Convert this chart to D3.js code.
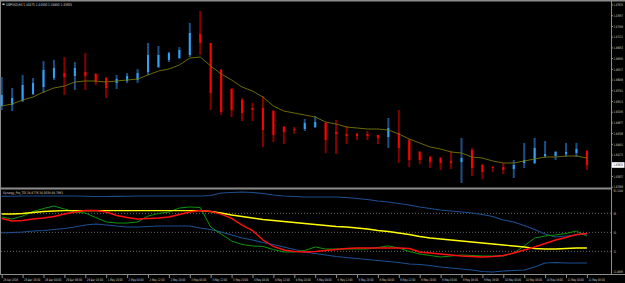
<!DOCTYPE html>
<html>
<head>
<meta charset="utf-8">
<script src="https://cdn.jsdelivr.net/npm/d3@7/dist/d3.min.js"></script>
<style>
  html, body { margin: 0; padding: 0; background: #000; }
  svg { display: block; }
  text { font-family: "DejaVu Sans", sans-serif; fill: #d8d8d8; }
</style>
</head>
<body>
<svg id="chart" width="625" height="283"></svg>
<script>
// GBPUSD H4 candles
const opens = [1.45400, 1.45425, 1.45525, 1.45700, 1.45875, 1.46100, 1.46225, 1.46150, 1.46250, 1.46200,
  1.46100, 1.45975, 1.46025, 1.46050, 1.46250, 1.46375, 1.46550, 1.46600, 1.46675, 1.47200,
  1.46975, 1.46300, 1.45825, 1.45550, 1.45350, 1.45350, 1.45275, 1.44875, 1.44825, 1.44825,
  1.44875, 1.44975, 1.44750, 1.44700, 1.44700, 1.44700, 1.44675, 1.44625, 1.44725, 1.44550,
  1.44250, 1.44125, 1.44100, 1.44025, 1.44000, 1.44300, 1.43925, 1.43875, 1.43875, 1.43825,
  1.43975, 1.43975, 1.44150, 1.44150, 1.44200, 1.44225, 1.44275];
const highs = [1.46125, 1.45850, 1.46175, 1.46100, 1.46525, 1.46550, 1.46625, 1.46500, 1.46725, 1.46225,
  1.46125, 1.46175, 1.46225, 1.46325, 1.46975, 1.46900, 1.46750, 1.46875, 1.47475, 1.47775,
  1.46975, 1.46325, 1.45850, 1.45600, 1.45475, 1.45650, 1.45300, 1.44900, 1.44875, 1.45075,
  1.45150, 1.45000, 1.45050, 1.44900, 1.44725, 1.44775, 1.44675, 1.45100, 1.45300, 1.44575,
  1.44275, 1.44150, 1.44125, 1.44275, 1.44600, 1.44350, 1.43950, 1.43900, 1.43975, 1.44050,
  1.44475, 1.44600, 1.44525, 1.44275, 1.44475, 1.44475, 1.44300];
const lows = [1.45300, 1.45275, 1.45500, 1.45675, 1.45725, 1.46050, 1.45675, 1.45800, 1.45800, 1.45925,
  1.45600, 1.45825, 1.45975, 1.45975, 1.46175, 1.46350, 1.46500, 1.46575, 1.46625, 1.46675,
  1.45300, 1.45175, 1.45125, 1.45025, 1.45025, 1.44375, 1.44500, 1.44450, 1.44700, 1.44775,
  1.44850, 1.44225, 1.44200, 1.44450, 1.44550, 1.44550, 1.44450, 1.44350, 1.43975, 1.43875,
  1.43950, 1.43850, 1.43800, 1.43825, 1.43475, 1.43650, 1.43575, 1.43750, 1.43700, 1.43600,
  1.43850, 1.43950, 1.44100, 1.44050, 1.44125, 1.44125, 1.43800];
const closes = [1.45675, 1.45600, 1.45925, 1.45975, 1.46300, 1.46350, 1.46125, 1.46350, 1.46150, 1.46000,
  1.45850, 1.46075, 1.46150, 1.46225, 1.46675, 1.46675, 1.46725, 1.46800, 1.47225, 1.46975,
  1.45725, 1.45250, 1.45300, 1.45225, 1.45300, 1.44800, 1.44675, 1.44750, 1.44800, 1.44975,
  1.45000, 1.44550, 1.44700, 1.44650, 1.44650, 1.44650, 1.44600, 1.44850, 1.44350, 1.44050,
  1.44050, 1.44000, 1.43975, 1.43975, 1.44100, 1.43850, 1.43750, 1.43850, 1.43800, 1.43925,
  1.44050, 1.44350, 1.44200, 1.44250, 1.44250, 1.44325, 1.43925];

// moving average on the price window
const maValues = [1.45400, 1.45450, 1.45550, 1.45625, 1.45750, 1.45850, 1.45900, 1.46000, 1.46025, 1.46025,
  1.46000, 1.46025, 1.46050, 1.46075, 1.46175, 1.46275, 1.46325, 1.46425, 1.46600, 1.46625,
  1.46400, 1.46200, 1.46050, 1.45875, 1.45775, 1.45625, 1.45400, 1.45275, 1.45225, 1.45175,
  1.45125, 1.45000, 1.44950, 1.44875, 1.44850, 1.44825, 1.44825, 1.44800, 1.44700, 1.44575,
  1.44475, 1.44375, 1.44325, 1.44250, 1.44225, 1.44125, 1.44100, 1.44025, 1.43975, 1.43975,
  1.44025, 1.44075, 1.44125, 1.44125, 1.44150, 1.44150, 1.44100];

// TDI sub window
const upperBand = [84.0, 84.2, 84.4, 84.4, 84.4, 84.4, 84.4, 84.4, 84.2, 83.9,
  83.9, 84.0, 84.2, 84.4, 84.4, 84.4, 84.4, 84.4, 84.4, 84.4,
  84.8, 87.2, 87.7, 88.2, 87.7, 86.7, 85.3, 84.4, 83.9, 83.4,
  83.4, 83.4, 83.4, 82.9, 82.0, 81.1, 79.6, 78.7, 77.3, 75.9,
  74.0, 72.5, 71.1, 70.2, 69.2, 68.3, 66.9, 65.0, 61.7, 59.8,
  56.4, 52.7, 48.4, 45.6, 46.5, 47.5, 48.4];
const lowerBand = [49.4, 49.8, 50.3, 51.2, 51.7, 52.7, 53.6, 55.0, 56.9, 57.9,
  56.9, 56.0, 55.0, 55.0, 55.5, 56.0, 56.0, 56.0, 56.0, 54.1,
  52.7, 50.3, 47.5, 44.6, 42.7, 40.4, 38.5, 36.1, 33.7, 31.4,
  30.0, 28.5, 27.1, 26.2, 25.2, 24.3, 23.3, 22.4, 21.4, 20.0,
  19.5, 18.6, 17.2, 16.2, 15.3, 14.3, 12.9, 12.4, 13.4, 13.9,
  14.3, 17.2, 21.0, 21.4, 21.0, 21.0, 21.0];
const rsiLine = [64.5, 62.6, 65.4, 69.7, 72.5, 74.9, 72.1, 69.2, 68.3, 64.0,
  59.8, 58.8, 58.8, 59.8, 65.4, 67.8, 69.2, 73.0, 74.0, 73.5,
  55.0, 48.4, 41.8, 38.5, 37.1, 36.6, 33.7, 31.4, 31.4, 32.8,
  36.1, 34.2, 34.2, 34.2, 34.2, 34.2, 35.6, 37.1, 35.2, 31.8,
  29.5, 28.1, 26.6, 27.6, 28.5, 28.1, 27.6, 27.6, 27.6, 30.4,
  37.1, 44.6, 46.5, 47.5, 48.9, 51.2, 46.5];
const signalLine = [63.1, 60.7, 61.2, 62.6, 63.6, 65.0, 67.3, 69.2, 70.7, 70.7,
  69.2, 65.9, 64.0, 62.6, 63.1, 63.6, 64.5, 66.9, 69.2, 70.7,
  69.7, 67.3, 63.1, 56.9, 51.7, 42.7, 36.6, 33.3, 31.8, 31.4,
  31.8, 32.8, 33.7, 34.7, 35.2, 35.2, 35.2, 35.2, 35.2, 34.7,
  31.4, 30.4, 29.5, 28.5, 27.6, 27.1, 26.6, 27.1, 28.1, 30.4,
  33.3, 36.1, 39.4, 42.7, 45.1, 47.9, 48.9];
const baseLine = [67.3, 67.3, 67.8, 68.8, 69.7, 70.2, 70.5, 70.5, 70.5, 70.5,
  70.5, 70.5, 70.5, 70.5, 70.5, 70.5, 70.5, 70.5, 70.5, 70.5,
  69.7, 68.3, 66.4, 65.0, 63.6, 62.1, 61.2, 60.2, 59.3, 58.3,
  57.4, 56.5, 55.5, 55.0, 54.1, 53.1, 51.7, 50.8, 49.4, 47.9,
  46.0, 44.6, 43.7, 42.7, 41.8, 40.8, 39.9, 38.9, 38.0, 37.1,
  36.1, 34.7, 34.2, 34.2, 34.7, 35.2, 35.2];
const tdiLevels = [68, 50, 32];

// axis labels
const priceTicks = [1.47925, 1.47657, 1.47389, 1.47121, 1.46853, 1.46585, 1.46317, 1.46049, 1.45781,
  1.45513, 1.45245, 1.44977, 1.44709, 1.44441, 1.44173, 1.43905, 1.43637, 1.43369];
const timeLabels = ["28 Apr 2016", "28 Apr 16:00", "29 Apr 00:00", "29 Apr 08:00", "29 Apr 16:00",
  "1 May 20:00", "2 May 04:00", "2 May 12:00", "2 May 20:00", "3 May 04:00", "3 May 12:00",
  "3 May 20:00", "4 May 04:00", "4 May 12:00", "4 May 20:00", "5 May 04:00", "5 May 12:00",
  "5 May 20:00", "6 May 04:00", "6 May 12:00", "6 May 20:00", "9 May 00:00", "9 May 08:00",
  "9 May 16:00", "10 May 00:00", "10 May 08:00", "10 May 16:00", "11 May 00:00", "11 May 08:00"];

const PLOT = { left: 1, right: 611 };
const MAIN = { top: 2, bottom: 187 };
const SUB = { top: 189, bottom: 273 };
const FRAME = "#8c8c8c";
const FONT = 3.4;
const CHAR_W = 1.36; // the terminal font is squeezed at this size

const svg = d3.select("#chart");
svg.append("rect").attr("width", 625).attr("height", 283).attr("fill", "#000");

const n = closes.length;
const x = d3.scaleLinear().domain([0, n - 1]).range([1.7, 586.9]);
const y = d3.scaleLinear().domain([1.43375, 1.48]).range([MAIN.bottom, MAIN.top]);
const ySub = d3.scaleLinear().domain([11.5, 91]).range([SUB.bottom, SUB.top]);

// small label, squeezed horizontally to the given width
function label(parent, px, py, str, width, size) {
  const t = parent.append("text")
    .style("font-size", (size || FONT) + "px")
    .text(str);
  const natural = t.node().getComputedTextLength();
  const w = width || String(str).length * CHAR_W;
  t.attr("transform", "translate(" + px + "," + py + ") scale(" + (w / natural) + ",1)");
  return t;
}

// frames
const frame = svg.append("g").attr("stroke", FRAME).attr("stroke-width", 1).attr("fill", "none");
frame.append("line").attr("x1", 0).attr("x2", 625).attr("y1", 0.5).attr("y2", 0.5).attr("stroke-width", 2);
frame.append("line").attr("x1", 0.5).attr("x2", 0.5).attr("y1", 0).attr("y2", 275);
frame.append("line").attr("x1", 0).attr("x2", PLOT.right).attr("y1", 188.5).attr("y2", 188.5).attr("stroke-width", 2);
frame.append("line").attr("x1", 0).attr("x2", PLOT.right + 14).attr("y1", 274.5).attr("y2", 274.5);
frame.append("line").attr("x1", PLOT.right + 0.5).attr("x2", PLOT.right + 0.5).attr("y1", 0).attr("y2", 275);

// ---- main window ----
const main = svg.append("g");

// candles
const bars = d3.range(n).map(i => ({ i: i, o: opens[i], h: highs[i], l: lows[i], c: closes[i] }));
main.selectAll("rect.wick")
  .data(bars)
  .enter().append("rect")
  .attr("class", "wick")
  .attr("x", d => x(d.i) - 1)
  .attr("width", 2)
  .attr("y", d => y(d.h))
  .attr("height", d => y(d.l) - y(d.h))
  .attr("fill", d => d.c >= d.o ? "#1b4f88" : "#860000");
main.selectAll("rect.body")
  .data(bars)
  .enter().append("rect")
  .attr("class", "body")
  .attr("x", d => x(d.i) - 1)
  .attr("width", 2)
  .attr("y", d => y(Math.max(d.o, d.c)))
  .attr("height", d => Math.max(1, Math.abs(y(d.o) - y(d.c))))
  .attr("fill", d => d.c >= d.o ? "#2ea3f7" : "#ff0000");

main.append("path")
  .datum(maValues)
  .attr("fill", "none")
  .attr("stroke", "#767600")
  .attr("stroke-width", 0.9)
  .attr("d", d3.line().x((d, i) => x(i)).y(d => y(d)));

// price scale
const pAxis = svg.append("g");
pAxis.selectAll("line")
  .data(priceTicks)
  .enter().append("line")
  .attr("x1", PLOT.right).attr("x2", PLOT.right + 2)
  .attr("y1", d => y(d)).attr("y2", d => y(d))
  .attr("stroke", FRAME);
priceTicks.forEach(p => label(pAxis, PLOT.right + 2.5, y(p) + 1.2, p.toFixed(5)));

// current price box
const last = closes[n - 1];
pAxis.append("rect")
  .attr("x", PLOT.right + 1).attr("y", y(last) - 2.8)
  .attr("width", 12.5).attr("height", 5.6)
  .attr("fill", "#fff");
label(pAxis, PLOT.right + 2.5, y(last) + 1.2, last.toFixed(5)).style("fill", "#000");

// title
svg.append("rect").attr("x", 2.5).attr("y", 3.5).attr("width", 2).attr("height", 1.5).attr("fill", "#d8d8d8");
label(svg, 6, 5.6,
  "GBPUSD,H4 " + [opens[n - 1], highs[n - 1], lows[n - 1], closes[n - 1]].map(v => v.toFixed(5)).join(" "),
  66, 3.8);

// ---- TDI window ----
const sub = svg.append("g");
sub.selectAll("line.level")
  .data(tdiLevels)
  .enter().append("line")
  .attr("class", "level")
  .attr("x1", PLOT.left).attr("x2", PLOT.right)
  .attr("y1", d => ySub(d)).attr("y2", d => ySub(d))
  .attr("stroke", "#6a6a6a")
  .attr("stroke-dasharray", "1,2");

const subLine = d3.line().x((d, i) => x(i)).y(d => ySub(d));
const series = [
  { values: upperBand, color: "#1d4f90", width: 1.1 },
  { values: lowerBand, color: "#1d4f90", width: 1.1 },
  { values: rsiLine, color: "#0c950c", width: 1 },
  { values: baseLine, color: "#ffff00", width: 1.4 },
  { values: signalLine, color: "#ff1010", width: 1.4 }
];
sub.selectAll("path.tdi")
  .data(series)
  .enter().append("path")
  .attr("class", "tdi")
  .attr("fill", "none")
  .attr("stroke", d => d.color)
  .attr("stroke-width", d => d.width)
  .attr("d", d => subLine(d.values));

label(sub, 3, 193.6, "Synergy_Pro_TDI 34.4776 34.0038 48.7961", 60);

// TDI scale labels
tdiLevels.forEach(v => label(sub, PLOT.right + 2.5, ySub(v) + 1.2, String(v)));
label(sub, PLOT.right + 2.5, 192.4, "91.1144");
label(sub, PLOT.right + 2.5, 273.4, "11.4895");

// ---- time scale ----
const tAxis = svg.append("g");
const tickIdx = timeLabels.map((t, k) => k * 2);
tAxis.selectAll("line")
  .data(tickIdx)
  .enter().append("line")
  .attr("x1", d => x(d) + 0.5).attr("x2", d => x(d) + 0.5)
  .attr("y1", 275).attr("y2", 278)
  .attr("stroke", FRAME);
timeLabels.forEach((t, k) =>
  label(tAxis, x(tickIdx[k]) + 1.5, 280.6, t, Math.min(17, t.length * CHAR_W)));
</script>
</body>
</html>
